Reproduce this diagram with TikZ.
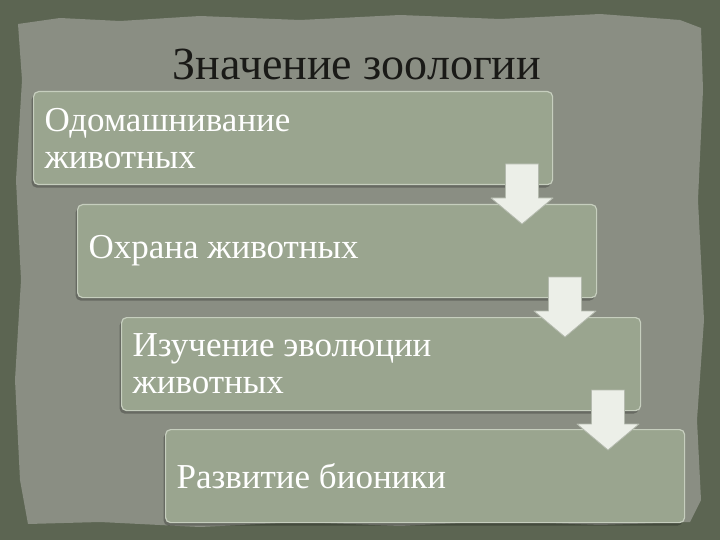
\documentclass[tikz,border=0pt]{standalone}
\usepackage{fontspec}
\setmainfont{Liberation Serif}
\usetikzlibrary{shadows}
\definecolor{outerc}{HTML}{5C6552}
\definecolor{paperc}{HTML}{8A8E83}
\definecolor{boxc}{HTML}{9AA58F}
\definecolor{boxedge}{HTML}{C6CEBE}
\definecolor{arrc}{HTML}{ECEFE8}
\definecolor{arredge}{HTML}{B4BAAE}
\definecolor{titlec}{HTML}{1A1A17}
\tikzset{
  stepbox/.style={draw=boxedge, line width=1.2pt, fill=boxc, rounded corners=5pt,
    minimum width=519pt, minimum height=93pt, text width=497pt, inner xsep=11pt,
    align=flush left, anchor=north west, text=white,
    font=\fontsize{35}{37}\selectfont,
    drop shadow={shadow xshift=-2pt, shadow yshift=-3pt, fill=black, opacity=0.25}},
  downarrow/.style={draw=arredge, line width=0.8pt, fill=arrc, line join=round}
}
\begin{document}
\begin{tikzpicture}[x=1pt,y=-1pt]
\useasboundingbox (0,0) rectangle (720,540);
\fill[outerc] (0,0) rectangle (720,540);
\fill[paperc] (18,24) -- (60,18) -- (120,21) -- (200,16) -- (300,20) -- (400,15) -- (500,19) -- (600,14) -- (680,20) -- (701,28)
  -- (703,90) -- (698,200) -- (704,320) -- (697,420) -- (701,500) -- (690,522)
  -- (600,525) -- (500,521) -- (400,526) -- (300,522) -- (200,527) -- (100,522) -- (28,524)
  -- (20,480) -- (15,380) -- (21,280) -- (16,180) -- (22,80) -- cycle;
\node[text=titlec, font=\fontsize{46}{52}\selectfont] (title) at (357,64) {Значение зоологии};
\node[stepbox] (b1) at (33,91) {Одомашнивание\\животных};
\node[stepbox] (b2) at (77,204) {Охрана животных};
\node[stepbox] (b3) at (121,317) {Изучение эволюции\\животных};
\node[stepbox] (b4) at (165,429) {Развитие бионики};
\coordinate (a1) at (522,164);
\coordinate (a2) at (565,277);
\coordinate (a3) at (608,390);
\foreach \a in {a1,a2,a3}{
  \draw[downarrow, shift={(\a)}] (-16.5,0) -- (16.5,0) -- (16.5,34) -- (31,34) -- (0,60) -- (-31,34) -- (-16.5,34) -- cycle;
}
\end{tikzpicture}
\end{document}
